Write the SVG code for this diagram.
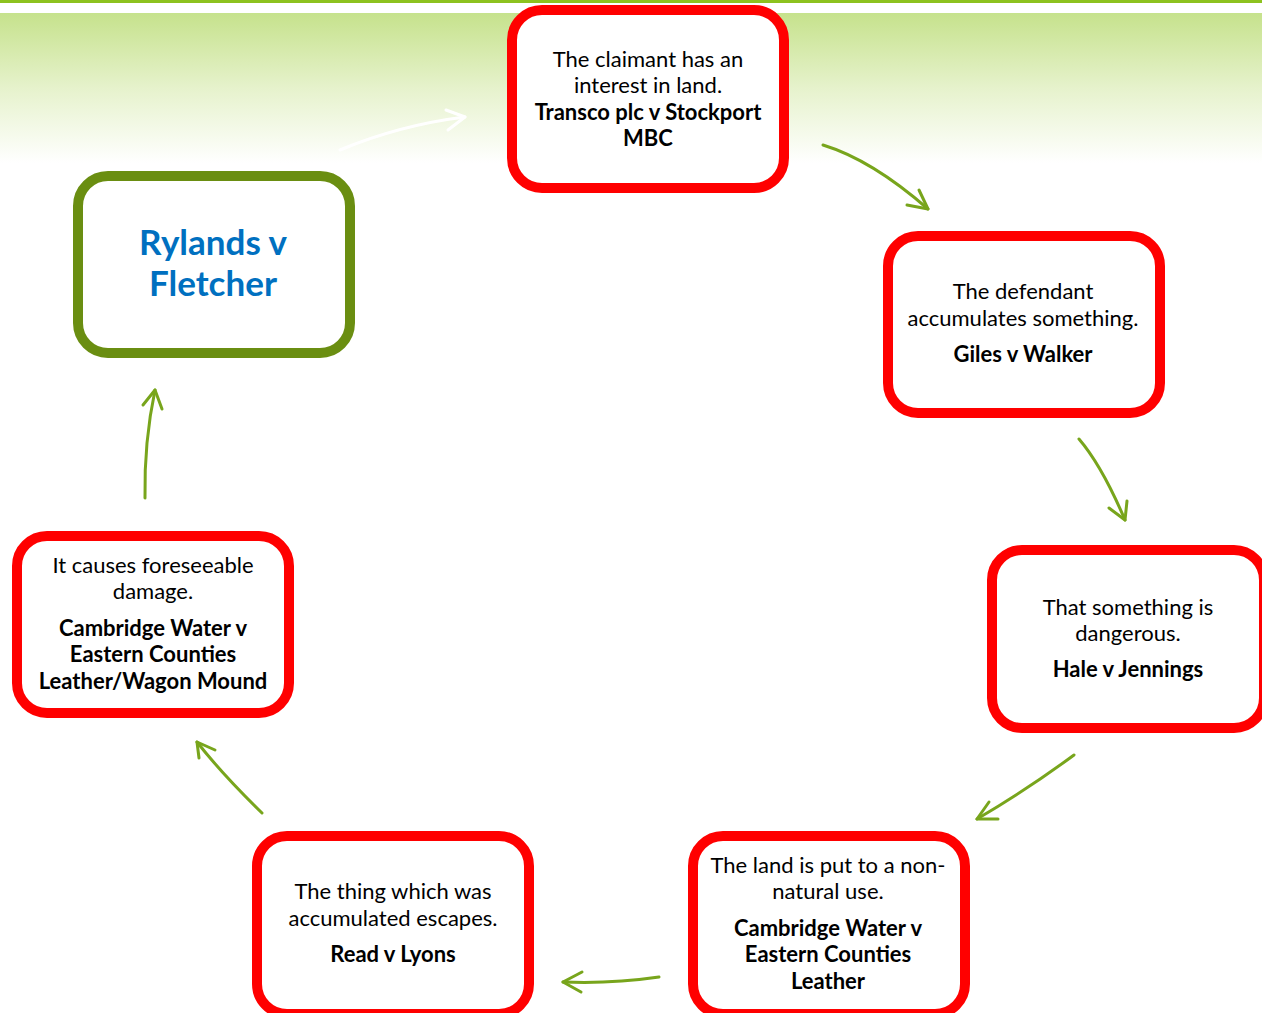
<svg xmlns="http://www.w3.org/2000/svg" width="1262" height="1013" viewBox="0 0 1262 1013">
<defs>
<linearGradient id="bg" x1="0" y1="0" x2="0" y2="1">
<stop offset="0" stop-color="#c6e28c"/>
<stop offset="0.5" stop-color="#e6f2cc"/>
<stop offset="1" stop-color="#ffffff"/>
</linearGradient>
<style>
.box{fill:#fff;stroke:#ff0000;stroke-width:10}
.main{fill:#fff;stroke:#6a8e11;stroke-width:10}
.t{font-family:Lato,"Liberation Sans",sans-serif;font-size:22px;fill:#000;text-anchor:middle}
.b{font-weight:bold}
.title{font-family:Lato,"Liberation Sans",sans-serif;font-size:35px;font-weight:bold;fill:#0070c0;text-anchor:middle}
.c{fill:none;stroke:#78a51c;stroke-width:3;stroke-linecap:round;stroke-linejoin:round}
.w{fill:none;stroke:#ffffff;stroke-width:3;stroke-linecap:round;stroke-linejoin:round}
</style>
</defs>
<rect x="0" y="0" width="1262" height="1013" fill="#fff"/>
<rect x="0" y="13" width="1262" height="150" fill="url(#bg)"/>
<rect x="0" y="0" width="1262" height="3" fill="#8dc21f"/>
<g id="connectors">
<path class="w" d="M340 150 Q400 125 465 117"/>
<polyline class="w" points="446,110 465,117 448,130"/>
<path class="c" d="M823 145 Q872 160 928 209"/>
<polyline class="c" points="919,190 928,209 907,205"/>
<path class="c" d="M1079 439 Q1102 466 1125 520"/>
<polyline class="c" points="1127,501 1125,520 1109,508"/>
<path class="c" d="M1074 755 Q1028 789 977 819"/>
<polyline class="c" points="989,802 977,819 998,819"/>
<path class="c" d="M659 977 Q611 984 563 982"/>
<polyline class="c" points="582,972 563,982 581,992"/>
<path class="c" d="M262 813 Q222 774 197 742"/>
<polyline class="c" points="215,750 197,742 199,758"/>
<path class="c" d="M145 498 Q144 442 155 390"/>
<polyline class="c" points="143,405 155,390 162,409"/>
</g>
<g id="node-rylands">
<rect class="main" x="78" y="176" width="272" height="177" rx="30"/>
<text class="title" x="213" y="255">Rylands v</text>
<text class="title" x="213" y="296">Fletcher</text>
</g>
<g id="node-claimant">
<rect class="box" x="512" y="10" width="272" height="178" rx="30"/>
<text class="t" x="648" y="67">The claimant has an</text>
<text class="t" x="648" y="93">interest in land.</text>
<text class="t b" x="648" y="120">Transco plc v Stockport</text>
<text class="t b" x="648" y="146">MBC</text>
</g>
<g id="node-defendant">
<rect class="box" x="888" y="236" width="272" height="177" rx="30"/>
<text class="t" x="1023" y="299">The defendant</text>
<text class="t" x="1023" y="326">accumulates something.</text>
<text class="t b" x="1023" y="362">Giles v Walker</text>
</g>
<g id="node-dangerous">
<rect class="box" x="992" y="550" width="272" height="178" rx="30"/>
<text class="t" x="1128" y="615">That something is</text>
<text class="t" x="1128" y="641">dangerous.</text>
<text class="t b" x="1128" y="677">Hale v Jennings</text>
</g>
<g id="node-nonnatural">
<rect class="box" x="693" y="836" width="272" height="178" rx="30"/>
<text class="t" x="828" y="873">The land is put to a non-</text>
<text class="t" x="828" y="899">natural use.</text>
<text class="t b" x="828" y="936">Cambridge Water v</text>
<text class="t b" x="828" y="962">Eastern Counties</text>
<text class="t b" x="828" y="989">Leather</text>
</g>
<g id="node-escapes">
<rect class="box" x="257" y="836" width="272" height="178" rx="30"/>
<text class="t" x="393" y="899">The thing which was</text>
<text class="t" x="393" y="926">accumulated escapes.</text>
<text class="t b" x="393" y="962">Read v Lyons</text>
</g>
<g id="node-damage">
<rect class="box" x="17" y="536" width="272" height="177" rx="30"/>
<text class="t" x="153" y="573">It causes foreseeable</text>
<text class="t" x="153" y="599">damage.</text>
<text class="t b" x="153" y="636">Cambridge Water v</text>
<text class="t b" x="153" y="662">Eastern Counties</text>
<text class="t b" x="153" y="689">Leather/Wagon Mound</text>
</g>
</svg>
